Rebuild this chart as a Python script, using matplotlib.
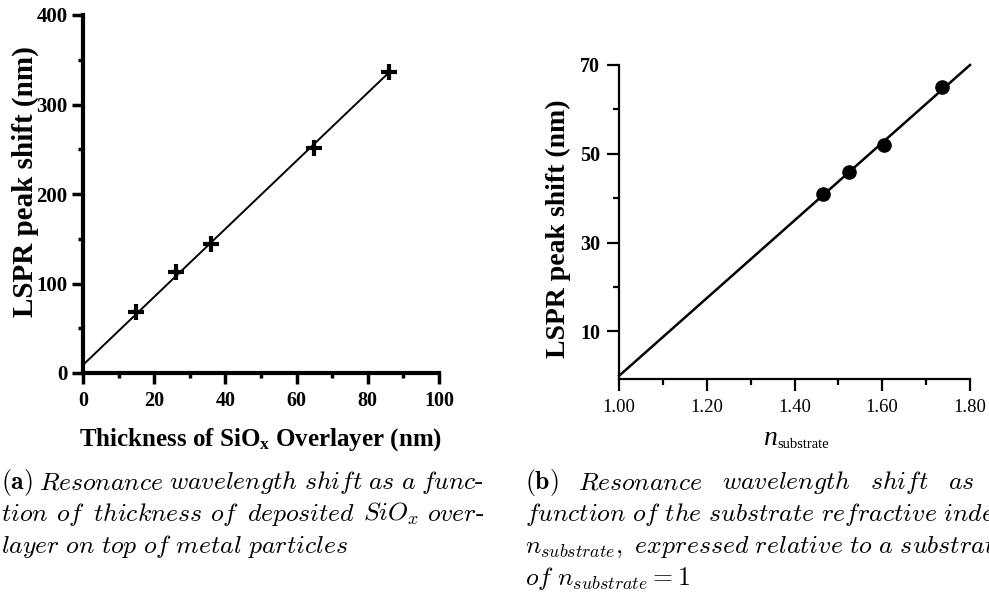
import matplotlib
matplotlib.use("Agg")
import matplotlib.pyplot as plt
from matplotlib.ticker import MultipleLocator, FixedLocator, FormatStrFormatter

W, H = 989, 596

# (a) peak shift vs SiOx overlayer thickness
thickness = [15, 26, 36, 65, 86]
shift_a = [68, 113, 144, 251, 336]
fit_a_x = [0, 86]
fit_a_y = [9, 336]

# (b) peak shift vs substrate refractive index
n_sub = [1.464, 1.524, 1.605, 1.736]
shift_b = [41, 46, 52, 65]
fit_b_x = [1.00, 1.80]
fit_b_y = [0, 70]

plt.rcParams["font.family"] = "Liberation Serif"
plt.rcParams["mathtext.fontset"] = "custom"
plt.rcParams["mathtext.rm"] = "Liberation Serif"
plt.rcParams["mathtext.it"] = "Liberation Serif:italic"
plt.rcParams["mathtext.bf"] = "Liberation Serif:bold"


def px_axes(fig, x0, y0, x1, y1):
    # pixel box (top-left origin) -> figure fraction axes
    return fig.add_axes([x0 / W, 1 - y1 / H, (x1 - x0) / W, (y1 - y0) / H])


fig = plt.figure(figsize=(W / 100, H / 100), dpi=100)

# ---------- panel (a) ----------
ax1 = px_axes(fig, 83, 15, 439, 373)
ax1.plot(fit_a_x, fit_a_y, color="black", lw=1.4)
ax1.plot(thickness, shift_a, ls="none", marker="+", ms=11, mew=3, color="black")
ax1.set_xlim(0, 100)
ax1.set_ylim(0, 400)
ax1.xaxis.set_major_locator(MultipleLocator(20))
ax1.xaxis.set_minor_locator(MultipleLocator(10))
ax1.yaxis.set_major_locator(MultipleLocator(100))
ax1.yaxis.set_minor_locator(MultipleLocator(50))
for side in ("top", "right"):
    ax1.spines[side].set_visible(False)
for side in ("left", "bottom"):
    ax1.spines[side].set_linewidth(3)
ax1.tick_params(which="major", direction="out", length=8, width=2.5)
ax1.tick_params(which="minor", direction="out", length=3.5, width=2.5)
ax1.tick_params(axis="y", which="major", pad=3, labelsize=15)
ax1.tick_params(axis="x", which="major", pad=5, labelsize=14.5)
for lab in ax1.get_xticklabels() + ax1.get_yticklabels():
    lab.set_fontweight("bold")

fig.text(25 / W, 1 - 182 / H, "LSPR peak shift (nm)", rotation=90,
         ha="center", va="center", fontsize=21, fontweight="bold")
fig.text(261 / W, 1 - 440 / H, r"Thickness of SiO$_\mathbf{x}$ Overlayer (nm)",
         ha="center", va="center", fontsize=18, fontweight="bold")

# ---------- panel (b) ----------
ax2 = px_axes(fig, 619, 65, 970, 379)
ax2.plot(fit_b_x, fit_b_y, color="black", lw=1.8, clip_on=False)
ax2.plot(n_sub, shift_b, ls="none", marker="o", ms=9.5, color="black")
ax2.set_xlim(1.0, 1.8)
ax2.set_ylim(-0.7, 70)
ax2.xaxis.set_major_locator(MultipleLocator(0.2))
ax2.xaxis.set_minor_locator(MultipleLocator(0.1))
ax2.xaxis.set_major_formatter(FormatStrFormatter("%.2f"))
ax2.yaxis.set_major_locator(FixedLocator([10, 30, 50, 70]))
ax2.yaxis.set_minor_locator(FixedLocator([20, 40, 60]))
for side in ("top", "right"):
    ax2.spines[side].set_visible(False)
for side in ("left", "bottom"):
    ax2.spines[side].set_linewidth(1.6)
ax2.tick_params(which="major", direction="out", length=8.5, width=1.6)
ax2.tick_params(which="minor", direction="out", length=4.5, width=1.6)
ax2.tick_params(axis="y", which="major", pad=5, labelsize=14.5)
ax2.tick_params(axis="x", which="major", pad=6, labelsize=13.5)
for lab in ax2.get_yticklabels():
    lab.set_fontweight("bold")

fig.text(558 / W, 1 - 229 / H, "LSPR peak shift (nm)", rotation=90,
         ha="center", va="center", fontsize=20, fontweight="bold")
fig.text(763 / W, 1 - 445 / H, "n", style="italic", fontsize=20, va="baseline")
fig.text(777 / W, 1 - 448 / H, "substrate", fontsize=10.5, va="baseline")

# ---------- captions ----------
CAP = dict(fontsize=18.5, math_fontfamily="cm", va="baseline")
renderer = fig.canvas.get_renderer()


def it(word):
    return r"$\mathit{%s}$" % word


def text_width(s):
    t = fig.text(0, 0, s, **CAP)
    w = t.get_window_extent(renderer).width
    t.remove()
    return w


def justified(words, x0, x1, y):
    # spread words evenly between x0 and x1 (pixels)
    widths = [text_width(w) for w in words]
    gap = max((x1 - x0 - sum(widths)) / (len(words) - 1), 4)
    x = x0
    for w, wd in zip(words, widths):
        fig.text(x / W, 1 - y / H, w, **CAP)
        x += wd + gap


base = [489, 521, 553, 585]

justified([r"$\mathbf{(a)}$"] + [it(w) for w in "Resonance wavelength shift as a".split()]
          + [r"$\mathit{func}\text{-}$"], 1, 484, base[0])
justified([it(w) for w in "tion of thickness of deposited".split()]
          + [r"$\mathit{SiO_x}$", r"$\mathit{over}\text{-}$"], 1, 484, base[1])
fig.text(1 / W, 1 - base[2] / H, r"$\mathit{layer\ on\ top\ of\ metal\ particles}$", **CAP)

xb = 525
line2_b = r"$\mathit{function\ of\ the\ substrate\ refractive\ index}$"
justified([r"$\mathbf{(b)}$"] + [it(w) for w in "Resonance wavelength shift as a".split()],
          xb, xb + text_width(line2_b), base[0])
fig.text(xb / W, 1 - base[1] / H, line2_b, **CAP)
fig.text(xb / W, 1 - base[2] / H,
         r"$n_{substrate}\mathit{,\ expressed\ relative\ to\ a\ substrate}$", **CAP)
fig.text(xb / W, 1 - base[3] / H, r"$\mathit{of}\ n_{substrate} = 1$", **CAP)

fig.savefig("out.png", dpi=100)
